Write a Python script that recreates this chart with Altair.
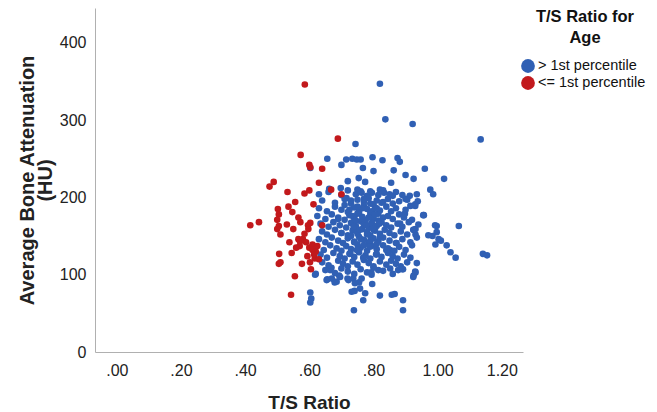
import altair as alt
import pandas as pd

# ---- data ----
red_x = [0.586, 0.689, 0.573, 0.600, 0.603, 0.640, 0.489, 0.476, 0.630, 0.532,
         0.585, 0.600, 0.668, 0.700, 0.556, 0.613, 0.535, 0.502, 0.505, 0.500,
         0.505, 0.547, 0.566, 0.572, 0.416, 0.443, 0.603, 0.530, 0.500, 0.510,
         0.550, 0.597, 0.580, 0.590, 0.570, 0.600, 0.610, 0.538, 0.559, 0.545,
         0.610, 0.506, 0.594, 0.617, 0.505, 0.510, 0.577, 0.602, 0.605, 0.555,
         0.543, 0.566, 0.596, 0.640, 0.571, 0.620, 0.625, 0.615, 0.630, 0.585]
red_y = [346, 276, 255, 242, 239, 237, 220, 214, 219, 207,
         205, 209, 210, 204, 194, 191, 188, 185, 178, 171,
         163, 181, 174, 168, 164, 168, 167, 165, 159, 152,
         159, 159, 146, 142, 137, 135, 139, 142, 135, 128,
         132, 127, 124, 121, 114, 116, 114, 116, 107, 98,
         74, 146, 164, 164, 143, 130, 137, 126, 120, 153]

blue_x = [
    # outliers and sparse edge points
    0.820, 0.837, 0.922, 1.134, 0.744, 0.656, 0.700, 0.715, 0.734, 0.748,
    0.760, 0.797, 0.828, 0.875, 0.882, 0.767, 0.800, 0.863, 0.900, 0.925,
    0.960, 1.020, 0.603, 0.720, 0.754, 0.774, 0.855, 0.630, 0.662, 0.698,
    0.716, 0.750, 0.763, 0.790, 0.820, 0.833, 0.860, 0.900, 0.913, 0.935,
    0.938, 0.977, 0.986, 0.957, 0.930, 0.997, 0.997, 1.066, 0.984, 1.003,
    1.010, 0.993, 1.040, 1.056, 1.141, 1.154, 0.931, 0.931, 0.931, 0.925,
    0.892, 0.603, 0.606, 0.603, 0.620, 0.656, 0.679, 0.693, 0.739, 0.774,
    0.768, 0.741, 0.820, 0.857, 0.866, 0.892, 0.892, 0.796, 0.755, 0.719,
    0.669, 0.793, 0.955, 0.992, 0.971, 1.028, 0.883, 0.898, 0.924, 0.935,
    0.872, 0.852, 0.654, 0.670, 0.685, 0.696, 0.722, 0.737, 0.742, 0.763,
    0.794, 0.815, 0.852, 0.877, 0.924, 0.930, 0.618, 0.665, 0.758, 0.732,
    # dense core
    0.660, 0.700, 0.720, 0.745, 0.760, 0.780, 0.795, 0.815, 0.830, 0.850, 0.870, 0.890,
    0.640, 0.680, 0.710, 0.730, 0.750, 0.770, 0.785, 0.800, 0.810, 0.825, 0.845, 0.860, 0.880, 0.905, 0.930,
    0.630, 0.655, 0.680, 0.700, 0.720, 0.740, 0.755, 0.770, 0.780, 0.790, 0.805, 0.820, 0.840, 0.855, 0.870, 0.900, 0.915,
    0.625, 0.650, 0.670, 0.690, 0.710, 0.725, 0.740, 0.750, 0.765, 0.775, 0.790, 0.800, 0.815, 0.830, 0.845, 0.860, 0.880, 0.895, 0.920,
    0.635, 0.660, 0.675, 0.695, 0.715, 0.730, 0.745, 0.760, 0.770, 0.785, 0.795, 0.810, 0.825, 0.840, 0.855, 0.875, 0.890, 0.910, 0.940,
    0.640, 0.655, 0.680, 0.700, 0.720, 0.735, 0.750, 0.765, 0.780, 0.790, 0.805, 0.820, 0.835, 0.850, 0.865, 0.885, 0.905, 0.925,
    0.630, 0.650, 0.670, 0.690, 0.705, 0.720, 0.740, 0.755, 0.770, 0.785, 0.800, 0.815, 0.830, 0.850, 0.870, 0.890, 0.915, 0.935,
    0.620, 0.645, 0.665, 0.685, 0.700, 0.715, 0.730, 0.750, 0.760, 0.780, 0.795, 0.810, 0.830, 0.845, 0.865, 0.880, 0.900, 0.920,
    0.635, 0.655, 0.675, 0.695, 0.710, 0.725, 0.740, 0.755, 0.775, 0.790, 0.810, 0.825, 0.845, 0.860, 0.875, 0.895, 0.915,
    0.640, 0.660, 0.690, 0.705, 0.720, 0.735, 0.750, 0.770, 0.785, 0.800, 0.820, 0.840, 0.855, 0.870, 0.885, 0.905,
    0.650, 0.680, 0.700, 0.720, 0.740, 0.760, 0.780, 0.800, 0.830, 0.860, 0.890,
    # extra points in the densest part
    0.725, 0.735, 0.745, 0.755, 0.765, 0.775, 0.785, 0.795, 0.805, 0.815,
    0.730, 0.740, 0.750, 0.760, 0.770, 0.780, 0.790, 0.800, 0.810, 0.820,
    0.728, 0.748, 0.768, 0.788, 0.808, 0.738, 0.758, 0.778, 0.798, 0.818,
    0.710, 0.730, 0.750, 0.770, 0.790, 0.810, 0.830, 0.690, 0.700, 0.840,
]
blue_y = [
    347, 301, 295, 275, 269, 250, 242, 249, 250, 249,
    249, 252, 248, 251, 246, 238, 234, 235, 229, 224,
    237, 224, 238, 221, 225, 220, 219, 204, 211, 212,
    199, 210, 206, 208, 210, 206, 202, 198, 202, 204,
    195, 210, 204, 177, 189, 163, 155, 163, 150, 146,
    144, 139, 129, 122, 127, 125, 159, 152, 103, 99,
    107, 77, 69, 64, 101, 94, 90, 99, 54, 76,
    67, 79, 73, 74, 75, 67, 54, 88, 90, 95,
    109, 103, 177, 164, 151, 138, 166, 179, 158, 115,
    141, 132, 93, 95, 91, 97, 93, 95, 89, 95,
    100, 106, 108, 106, 97, 104, 100, 106, 82, 78,
    207, 203, 209, 204, 208, 202, 206, 203, 209, 204, 207, 203,
    196, 193, 198, 192, 197, 194, 199, 191, 196, 193, 198, 192, 195, 197, 191,
    186, 182, 188, 184, 181, 187, 183, 189, 185, 181, 187, 183, 188, 182, 186, 184, 189,
    176, 172, 178, 174, 171, 177, 173, 179, 175, 171, 177, 173, 179, 174, 176, 172, 178, 174, 171,
    166, 162, 168, 164, 161, 167, 163, 169, 165, 161, 167, 163, 168, 164, 161, 166, 162, 168, 165,
    156, 152, 158, 154, 151, 157, 153, 159, 155, 151, 157, 153, 158, 154, 151, 156, 152, 158,
    146, 142, 148, 144, 141, 147, 143, 149, 145, 141, 147, 143, 148, 144, 141, 146, 142, 148,
    136, 132, 138, 134, 131, 137, 133, 139, 135, 131, 137, 133, 138, 134, 131, 136, 132, 138,
    126, 122, 128, 124, 121, 127, 123, 129, 125, 121, 127, 123, 128, 124, 121, 126, 122,
    116, 112, 118, 114, 111, 117, 113, 119, 115, 111, 117, 113, 118, 114, 111, 116,
    106, 102, 108, 104, 101, 107, 103, 109, 105, 101, 107,
    184, 176, 170, 180, 186, 168, 174, 182, 178, 170,
    150, 142, 156, 146, 138, 152, 144, 158, 140, 148,
    128, 132, 122, 136, 126, 162, 158, 164, 160, 166,
    190, 196, 188, 198, 192, 186, 194, 172, 154, 132,
]

groups = ["> 1st percentile", "<= 1st percentile"]
colors = ["#3060b4", "#c2191c"]
x_ticks = [0.0, 0.2, 0.4, 0.6, 0.8, 1.0, 1.2]
y_ticks = [0, 100, 200, 300, 400]
legend_title = "T/S Ratio for\nAge"

df = pd.concat([
    pd.DataFrame({"ts": blue_x, "hu": blue_y, "grp": groups[0]}),
    pd.DataFrame({"ts": red_x, "hu": red_y, "grp": groups[1]}),
], ignore_index=True)

FONT = "Liberation Sans"

points = alt.Chart(df).mark_circle(size=44, opacity=1).encode(
    x=alt.X("ts:Q",
            scale=alt.Scale(domain=[-0.068, 1.266], nice=False, zero=False),
            axis=alt.Axis(title="T/S Ratio", values=x_ticks, labelPadding=10, titlePadding=15,
                          titleFontSize=19,
                          labelExpr="datum.value < 1 ? substring(format(datum.value, '.2f'), 1) : format(datum.value, '.2f')")),
    y=alt.Y("hu:Q",
            scale=alt.Scale(domain=[0, 445], nice=False),
            axis=alt.Axis(title=["Average Bone Attenuation", "(HU)"], values=y_ticks,
                          labelPadding=9, titlePadding=4, titleFontSize=20, titleLineHeight=18)),
    color=alt.Color("grp:N",
                    scale=alt.Scale(domain=groups, range=colors),
                    legend=alt.Legend(title=None, orient="none",
                                      legendX=425, legendY=50,
                                      labelFont=FONT, labelFontSize=14.5, labelColor="#111",
                                      labelOffset=2, labelLimit=300, symbolSize=190, symbolOpacity=1,
                                      symbolType="circle", rowPadding=2)),
)

legend_head = alt.Chart(pd.DataFrame({"t": [legend_title]})).mark_text(
    font=FONT, fontSize=16.5, fontWeight="bold", color="#111",
    align="center", baseline="top", lineBreak="\n", lineHeight=21,
).encode(text="t:N", x=alt.value(490), y=alt.value(1))

chart = alt.layer(points, legend_head).properties(
    width=428, height=344,
    autosize=alt.AutoSizeParams(type="none"),
    padding={"left": 87, "top": 0, "right": 126, "bottom": 60},
).configure_view(stroke=None).configure_axis(
    grid=False, ticks=False, domainColor="#b0b0b0", domainWidth=1,
    labelFont=FONT, labelFontSize=16, labelColor="#222",
    titleFont=FONT, titleFontWeight="bold", titleColor="#222",
)

chart.save("out.html", embed_options={"renderer": "svg", "actions": False})
